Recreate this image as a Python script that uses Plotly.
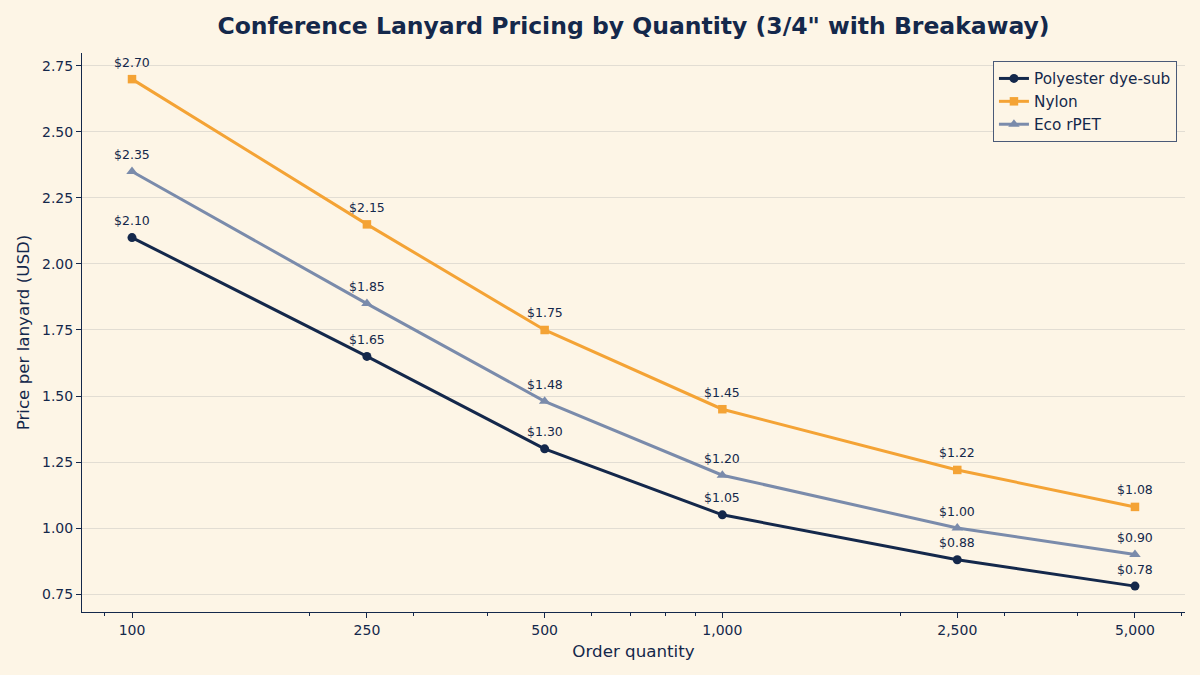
import numpy as np
import plotly.graph_objects as go

quantities = [100, 250, 500, 1000, 2500, 5000]
tick_labels = ["100", "250", "500", "1,000", "2,500", "5,000"]
polyester = [2.10, 1.65, 1.30, 1.05, 0.88, 0.78]
nylon = [2.70, 2.15, 1.75, 1.45, 1.22, 1.08]
eco = [2.35, 1.85, 1.48, 1.20, 1.00, 0.90]

NAVY = "#14284B"
ORANGE = "#F4A335"
SLATE = "#7A8BAB"
BG = "#FDF5E6"
FONT = "DejaVu Sans"

series = [
    ("Polyester dye-sub", polyester, NAVY, "circle", 9),
    ("Nylon", nylon, ORANGE, "square", 8.5),
    ("Eco rPET", eco, SLATE, "triangle-up", 10),
]

fig = go.Figure()
annotations = []
for name, vals, color, sym, msize in series:
    fig.add_trace(go.Scatter(
        x=quantities, y=vals, name=name, mode="lines+markers",
        line=dict(color=color, width=3),
        marker=dict(symbol=sym, size=msize, color=color),
    ))
    for q, v in zip(quantities, vals):
        annotations.append(dict(
            x=np.log10(q), y=v, xref="x", yref="y", text=f"${v:.2f}",
            showarrow=False, yshift=17, font=dict(family=FONT, size=12.5, color=NAVY),
        ))

fig.update_layout(
    width=1200, height=675,
    paper_bgcolor=BG, plot_bgcolor=BG,
    margin=dict(l=82, r=15, t=53, b=63),
    font=dict(family=FONT, color=NAVY, size=14),
    title=dict(text="<b>Conference Lanyard Pricing by Quantity (3/4\" with Breakaway)</b>",
               x=0.5, xref="paper", xanchor="center",
               y=1 - 26 / 675, yref="container", yanchor="middle",
               font=dict(family=FONT, size=23.5, color=NAVY)),
    legend=dict(x=0.9927, y=0.9857, xanchor="right", yanchor="top",
                bgcolor=BG, bordercolor="#4A5A78", borderwidth=1,
                font=dict(family=FONT, size=15.3, color=NAVY)),
    annotations=annotations,
    showlegend=True,
)

fig.update_xaxes(
    type="log", range=[1.9153, 3.7837],
    tickvals=quantities, ticktext=tick_labels,
    showgrid=False, zeroline=False,
    showline=True, linecolor=NAVY, linewidth=1,
    ticks="outside", ticklen=5, tickcolor=NAVY,
    minor=dict(tickvals=[90, 200, 300, 400, 600, 700, 800, 900, 2000, 3000, 4000, 6000],
               ticks="outside", ticklen=3, tickcolor=NAVY, showgrid=False),
    title=dict(text="Order quantity", font=dict(family=FONT, size=16.7, color=NAVY), standoff=8),
    tickfont=dict(family=FONT, size=14, color=NAVY),
)
fig.update_yaxes(
    range=[0.682, 2.799],
    tickvals=[0.75, 1.0, 1.25, 1.5, 1.75, 2.0, 2.25, 2.5, 2.75],
    tickformat=".2f",
    showgrid=True, gridcolor="#E2DDD3", gridwidth=1, zeroline=False,
    showline=True, linecolor=NAVY, linewidth=1,
    ticks="outside", ticklen=5, tickcolor=NAVY,
    title=dict(text="Price per lanyard (USD)", font=dict(family=FONT, size=16.7, color=NAVY), standoff=8),
    tickfont=dict(family=FONT, size=14, color=NAVY),
)

fig.write_html("out.html")
